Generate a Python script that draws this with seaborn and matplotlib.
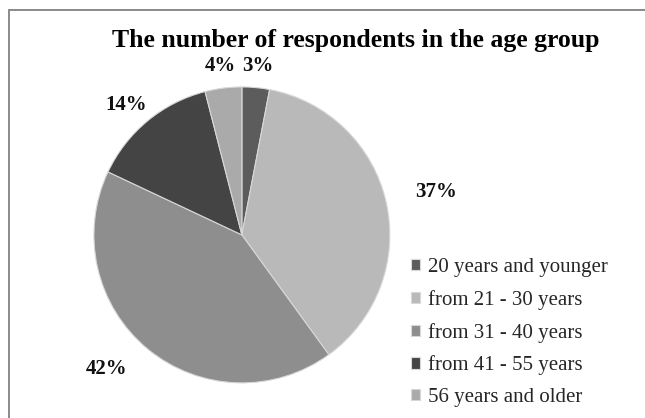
import matplotlib
matplotlib.use("Agg")
import matplotlib.pyplot as plt
import seaborn as sns
import numpy as np
from matplotlib.lines import Line2D

categories = ["20 years and younger", "from 21 - 30 years", "from 31 - 40 years",
              "from 41 - 55 years", "56 years and older"]
values = [3, 37, 42, 14, 4]
pct_labels = ["3%", "37%", "42%", "14%", "4%"]
colors = ["#5c5c5c", "#b9b9b9", "#8e8e8e", "#444444", "#aaaaaa"]
label_dist = [1.15, 1.345, 1.29, 1.19, 1.15]
label_shift = [(0, 0), (0, 0), (-0.09, 0.09), (-0.02, -0.04), (0, 0)]

sns.set_theme(style="white")
plt.rcParams['font.family'] = ['Liberation Serif', 'DejaVu Serif']

fig = plt.figure(figsize=(6.45, 4.18), dpi=100)
fig.patch.set_facecolor("white")
# frame: only top and left edges fall inside the image
fx, fy = 8.5 / 645, 1 - 9.5 / 418
fig.lines.append(Line2D([fx, fx], [0, fy], transform=fig.transFigure, color="#8a8a8a", linewidth=1.4))
fig.lines.append(Line2D([fx, 1], [fy, fy], transform=fig.transFigure, color="#8a8a8a", linewidth=1.4))

ax = fig.add_axes([0.375 - 0.2295, 0.438 - 0.354, 0.459, 0.708])
wedges, _ = ax.pie(values, colors=colors, startangle=90, counterclock=False,
                   radius=1.0, wedgeprops=dict(edgecolor="#d8d8d8", linewidth=0.8))
for w, lab, d, (sx, sy) in zip(wedges, pct_labels, label_dist, label_shift):
    ang = np.deg2rad((w.theta1 + w.theta2) / 2)
    ax.text(d * np.cos(ang) + sx, d * np.sin(ang) + sy, lab, ha="center", va="center",
            fontsize=15, fontweight="bold", color="#111111")
ax.set_xlim(-1, 1)
ax.set_ylim(-1, 1)
ax.set_aspect("equal")
ax.axis("off")

fig.text(0.551, 0.902, "The number of respondents in the age group", ha="center", va="center",
         fontsize=18.5, fontweight="bold", color="black")

fig.legend(wedges, categories, loc="upper left", bbox_to_anchor=(0.637, 0.383),
           frameon=False, fontsize=15, handlelength=0.45, handleheight=0.45,
           handletextpad=0.35, labelspacing=0.62, borderaxespad=0, borderpad=0)

fig.savefig("out.png", dpi=100)
